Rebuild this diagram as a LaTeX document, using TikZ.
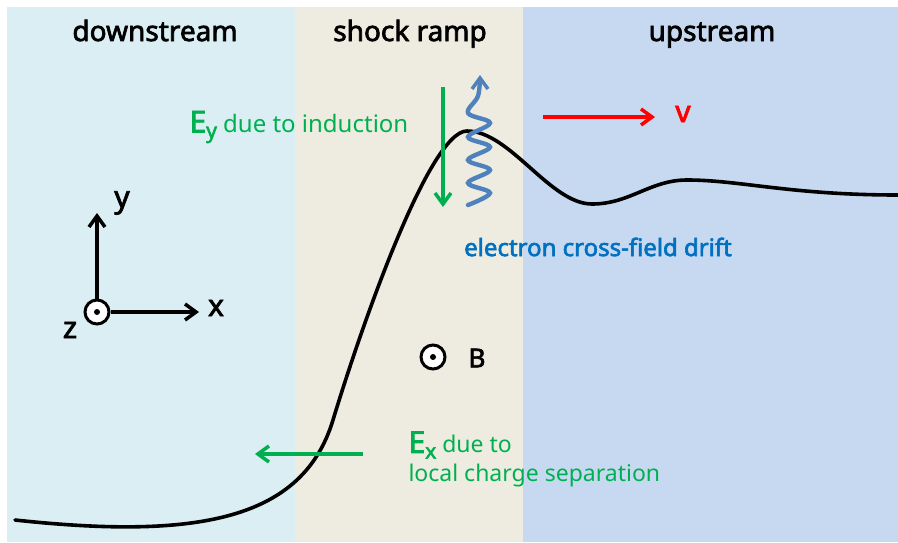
\documentclass[tikz,border=0pt]{standalone}
\usepackage{fontspec}
\setmainfont{Noto Sans}[BoldFont={Noto Sans},BoldFeatures={FakeBold=2.5}]
\usetikzlibrary{arrows.meta}
\definecolor{downbg}{HTML}{DAEEF3}
\definecolor{rampbg}{HTML}{EEECE1}
\definecolor{upbg}{HTML}{C6D9F1}
\definecolor{fieldgreen}{HTML}{00B050}
\definecolor{driftblue}{HTML}{0070C0}
\definecolor{wavyblue}{HTML}{4F81BD}
\newcommand{\fsz}[1]{\fontsize{#1}{#1}\selectfont}
\newcommand{\Efield}[1]{{\bfseries\fsz{30}E\raisebox{-0.35ex}{\fsz{21}#1}}}
\tikzset{
  barb/.style={-{Straight Barb[length=11pt,width=16pt,line width=3.5pt]}},
  header/.style={font=\bfseries\fsz{28},anchor=base},
  outof/.style={circle,draw,line width=3pt,fill=white,minimum size=24pt,inner sep=0pt}
}
\begin{document}
\begin{tikzpicture}[x=1pt,y=-1pt]
    \useasboundingbox (0,0) rectangle (898,542);
    % three regions
    \fill[downbg] (7,7) rectangle (295,542);
    \fill[rampbg] (295,7) rectangle (523,542);
    \fill[upbg] (523,7) rectangle (898,542);
    \node[header] (down) at (155,41) {downstream};
    \node[header] (ramp) at (410,41) {shock ramp};
    \node[header] (up) at (712,41) {upstream};
    % shock profile
    \draw[line width=3.6pt,line cap=round] (15,520) .. controls (200,540) and (303,519) .. (333,420)
        .. controls (363,321) and (430,131) .. (467,131)
        .. controls (510,131) and (550,204) .. (592,204)
        .. controls (630,204) and (650,180) .. (687,180)
        .. controls (740,180) and (790,195) .. (898,195);
    % induction field
    \coordinate (eytop) at (443,87);
    \coordinate (eybot) at (443,207);
    \draw[fieldgreen,line width=3.8pt,barb] (eytop) -- (eybot);
    \node[fieldgreen,anchor=west,font=\fsz{24}] (eylab) at (186,127) {\Efield{y} due to induction};
    % drift wiggle
    \draw[wavyblue,line width=4.4pt,line cap=round,barb] plot[smooth,tension=0.6] coordinates {(468,205) (490,193) (468,183) (490,170) (468,160) (490,147) (468,137) (490,123) (468,113) (478,96) (480,75)};
    \node[driftblue,font=\bfseries\fsz{24}] (drift) at (598,247) {electron cross-field drift};
    % flow velocity
    \coordinate (vstart) at (543,117);
    \coordinate (vend) at (655,117);
    \node[red,font=\bfseries\fsz{30}] (vlab) at (683,114) {v};
    \draw[red,line width=3.8pt,barb] (vstart) -- (vend);
    % axes
    \node[outof] (zorig) at (97,312) {};
    \fill (zorig) circle (3pt);
    \coordinate (ytip) at (97,213);
    \coordinate (xtip) at (199,312);
    \draw[line width=3.4pt,barb] (zorig.north) -- (ytip);
    \draw[line width=3.4pt,barb] (zorig.east) -- (xtip);
    \node[font=\bfseries\fsz{30}] (ylab) at (122,203) {y};
    \node[font=\bfseries\fsz{30}] (xlab) at (216,308) {x};
    \node[font=\bfseries\fsz{30}] (zlab) at (70,330) {z};
    % magnetic field
    \node[outof] (bfield) at (433,357) {};
    \fill (bfield) circle (3pt);
    \node[font=\bfseries\fsz{26}] (blab) at (477,358) {B};
    % charge separation field
    \coordinate (exstart) at (363,454);
    \coordinate (exend) at (255,454);
    \draw[fieldgreen,line width=3.8pt,barb] (exstart) -- (exend);
    \node[fieldgreen,anchor=west,font=\fsz{23}] (exlab) at (405,445) {\Efield{x} due to};
    \node[fieldgreen,anchor=west,font=\fsz{23}] (exlab2) at (405,476) {local charge separation};
\end{tikzpicture}
\end{document}
